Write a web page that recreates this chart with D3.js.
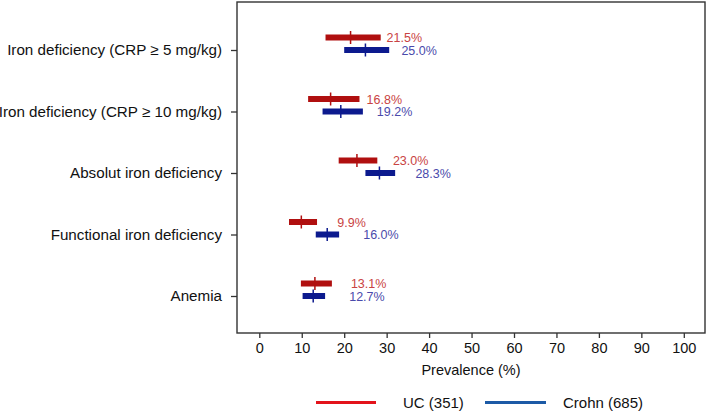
<!DOCTYPE html>
<html>
<head>
<meta charset="utf-8">
<script src="https://cdn.jsdelivr.net/npm/d3@7/dist/d3.min.js"></script>
<style>
  html, body { margin: 0; padding: 0; background: #fff; }
  svg { display: block; font-family: "Liberation Sans", Arial, sans-serif; }
</style>
</head>
<body>
<svg id="chart" width="708" height="413"></svg>
<script>
// ---- data ----
const categories = [
  "Iron deficiency (CRP \u2265 5 mg/kg)",
  "Iron deficiency (CRP \u2265 10 mg/kg)",
  "Absolut iron deficiency",
  "Functional iron deficiency",
  "Anemia"
];
const ucEst   = [21.5, 16.8, 23.0, 9.9, 13.1];
const ucLow   = [15.6, 11.5, 18.7, 7.0, 9.8];
const ucHigh  = [28.6, 23.6, 27.8, 13.6, 17.1];
const crohnEst  = [25.0, 19.2, 28.3, 16.0, 12.7];
const crohnLow  = [20.0, 14.9, 25.0, 13.3, 10.2];
const crohnHigh = [30.6, 24.4, 32.0, 18.8, 15.5];
const xTicks = [0, 10, 20, 30, 40, 50, 60, 70, 80, 90, 100];
const seriesNames = ["UC (351)", "Crohn (685)"];

// ---- layout ----
const svg = d3.select("#chart");
const frame = { left: 237, right: 705, top: 2, bottom: 333 };

const x = d3.scaleLinear().domain([0, 100]).range([259.3, 683.8]);
const y = d3.scalePoint().domain(categories).range([50, 296]);

const series = [
  { name: seriesNames[0], est: ucEst, low: ucLow, high: ucHigh, dy: -12.5,
    bar: "#b00f0f", label: "#c94343", legend: "#e3131b" },
  { name: seriesNames[1], est: crohnEst, low: crohnLow, high: crohnHigh, dy: 0,
    bar: "#0c1a8e", label: "#4a4aab", legend: "#1c5aa6" }
];

// frame
svg.append("rect")
  .attr("x", frame.left).attr("y", frame.top)
  .attr("width", frame.right - frame.left).attr("height", frame.bottom - frame.top)
  .attr("fill", "none").attr("stroke", "#333").attr("stroke-width", 1.4);

// x axis
const xAxis = d3.axisBottom(x).tickValues(xTicks).tickSize(5).tickPadding(5).tickFormat(d3.format("d"));
const gx = svg.append("g").attr("transform", `translate(0,${frame.bottom})`).call(xAxis);
gx.select(".domain").remove();
gx.selectAll(".tick line").attr("stroke", "#333").attr("stroke-width", 1.3);
gx.selectAll(".tick text").attr("fill", "#111").style("font-size", "14.5px")
  .style("font-family", '"Liberation Sans", Arial, sans-serif');

// y axis
const yAxis = d3.axisLeft(y).tickSize(6).tickPadding(9);
const gy = svg.append("g").attr("transform", `translate(${frame.left},0)`).call(yAxis);
gy.select(".domain").remove();
gy.selectAll(".tick line").attr("stroke", "#333").attr("stroke-width", 1.3);
gy.selectAll(".tick text").attr("fill", "#111").style("font-size", "15.2px")
  .style("font-family", '"Liberation Sans", Arial, sans-serif');

// axis title
svg.append("text")
  .attr("x", (frame.left + frame.right) / 2).attr("y", 375)
  .attr("text-anchor", "middle").attr("fill", "#111").style("font-size", "14.5px")
  .text("Prevalence (%)");

// bars
series.forEach(s => {
  const g = svg.append("g");
  categories.forEach((c, i) => {
    const cy = y(c) + s.dy;
    g.append("rect")
      .attr("x", x(s.low[i])).attr("y", cy - 3)
      .attr("width", x(s.high[i]) - x(s.low[i])).attr("height", 6)
      .attr("fill", s.bar);
    g.append("line")
      .attr("x1", x(s.est[i])).attr("x2", x(s.est[i]))
      .attr("y1", cy - 6.5).attr("y2", cy + 6.5)
      .attr("stroke", s.bar).attr("stroke-width", 1.5);
    g.append("text")
      .attr("x", x(s.est[i]) + 36).attr("y", cy)
      .attr("dy", "0.36em")
      .attr("fill", s.label).style("font-size", "12.5px")
      .text(d3.format(".1f")(s.est[i]) + "%");
  });
});

// legend
const legY = 402.5;
const legItems = [
  { x1: 316, x2: 376, tx: 403 },
  { x1: 485, x2: 546, tx: 563 }
];
series.forEach((s, i) => {
  const L = legItems[i];
  svg.append("line")
    .attr("x1", L.x1).attr("x2", L.x2).attr("y1", legY).attr("y2", legY)
    .attr("stroke", s.legend).attr("stroke-width", 3);
  svg.append("text")
    .attr("x", L.tx).attr("y", legY).attr("dy", "0.36em")
    .attr("fill", "#111").style("font-size", "15px")
    .text(s.name);
});
</script>
</body>
</html>
